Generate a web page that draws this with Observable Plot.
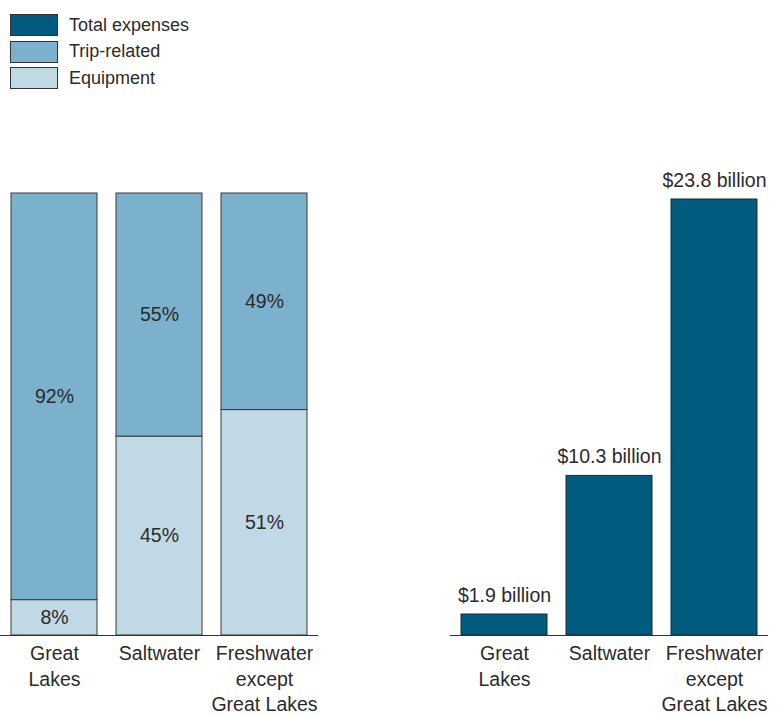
<!DOCTYPE html>
<html>
<head>
<meta charset="utf-8">
<script src="https://cdn.jsdelivr.net/npm/d3@7"></script>
<script src="https://cdn.jsdelivr.net/npm/@observablehq/plot@0.6"></script>
<style>
  html, body { margin: 0; padding: 0; background: #fff; }
  #root { position: relative; width: 780px; height: 715px; overflow: hidden; font-family: "Liberation Sans", Arial, Helvetica, sans-serif; color: #2b2b2b; }
  .legend { position: absolute; left: 10px; top: 12px; }
  .legend .row { display: flex; align-items: center; height: 26.5px; font-size: 18px; }
  .legend .sw { width: 46px; height: 20px; border: 1px solid #333; margin-right: 11px; box-sizing: content-box; }
  #left, #right { position: absolute; top: 0; }
  #left { left: 0; }
  #right { left: 450px; }
</style>
</head>
<body>
<div id="root">
  <div class="legend" id="legend"></div>
  <div id="left"></div>
  <div id="right"></div>
</div>
<script>
const categories = ["Great Lakes", "Saltwater", "Freshwater except Great Lakes"];
const categoryLabels = ["Great\nLakes", "Saltwater", "Freshwater\nexcept\nGreat Lakes"];
const tripShare = [92, 55, 49];
const equipmentShare = [8, 45, 51];
const totalBillions = [1.9, 10.3, 23.8];
const seriesNames = ["Total expenses", "Trip-related", "Equipment"];
const seriesColors = ["#005b7f", "#7bb1cc", "#c1d8e5"];

// legend
const legend = document.getElementById("legend");
seriesNames.forEach((name, i) => {
  const row = document.createElement("div");
  row.className = "row";
  const sw = document.createElement("div");
  sw.className = "sw";
  sw.style.background = seriesColors[i];
  const label = document.createElement("span");
  label.textContent = name;
  row.appendChild(sw);
  row.appendChild(label);
  legend.appendChild(row);
});

const shares = categories.flatMap((c, i) => [
  {category: c, type: "Equipment", value: equipmentShare[i]},
  {category: c, type: "Trip-related", value: tripShare[i]}
]);
const totals = categories.map((c, i) => ({category: c, value: totalBillions[i]}));
const labelRows = categories.map((c, i) => ({category: c, label: categoryLabels[i]}));

const common = {
  width: 330,
  height: 715,
  marginLeft: 0,
  marginRight: 12,
  marginBottom: 80,
  style: {fontFamily: '"Liberation Sans", Arial, Helvetica, sans-serif', fontSize: "19.5px", color: "#2b2b2b", background: "transparent", overflow: "visible"}
};
const xScale = {domain: categories, paddingInner: 0.185, paddingOuter: 0.1, axis: null};

const left = Plot.plot({
  ...common,
  marginTop: 193,
  x: xScale,
  y: {domain: [0, 100], axis: null},
  color: {domain: ["Trip-related", "Equipment"], range: [seriesColors[1], seriesColors[2]]},
  marks: [
    Plot.barY(shares, {x: "category", y: "value", fill: "type", stroke: "#3a3a3a", strokeWidth: 1}),
    Plot.text(shares, Plot.stackY({x: "category", y: "value", text: d => d.value + "%", fill: "#2b2b2b", fontSize: 19.5})),
    Plot.ruleY([0], {stroke: "#333", strokeWidth: 1.2}),
    Plot.text(labelRows, {x: "category", y: () => 0, text: "label", lineAnchor: "top", dy: 7, fontSize: 19.5, lineHeight: 1.29, fill: "#2b2b2b"})
  ]
});
document.getElementById("left").appendChild(left);

const right = Plot.plot({
  ...common,
  marginTop: 199,
  x: xScale,
  y: {type: "pow", exponent: 1.2, domain: [0, 23.8], axis: null},
  marks: [
    Plot.barY(totals, {x: "category", y: "value", fill: seriesColors[0], stroke: "#1c2b3a", strokeWidth: 1}),
    Plot.text(totals, {x: "category", y: "value", text: d => "$" + d.value + " billion", lineAnchor: "bottom", dy: -13, fontSize: 19.5, fill: "#2b2b2b"}),
    Plot.ruleY([0], {stroke: "#333", strokeWidth: 1.2}),
    Plot.text(labelRows, {x: "category", y: () => 0, text: "label", lineAnchor: "top", dy: 7, fontSize: 19.5, lineHeight: 1.29, fill: "#2b2b2b"})
  ]
});
document.getElementById("right").appendChild(right);
</script>
</body>
</html>
